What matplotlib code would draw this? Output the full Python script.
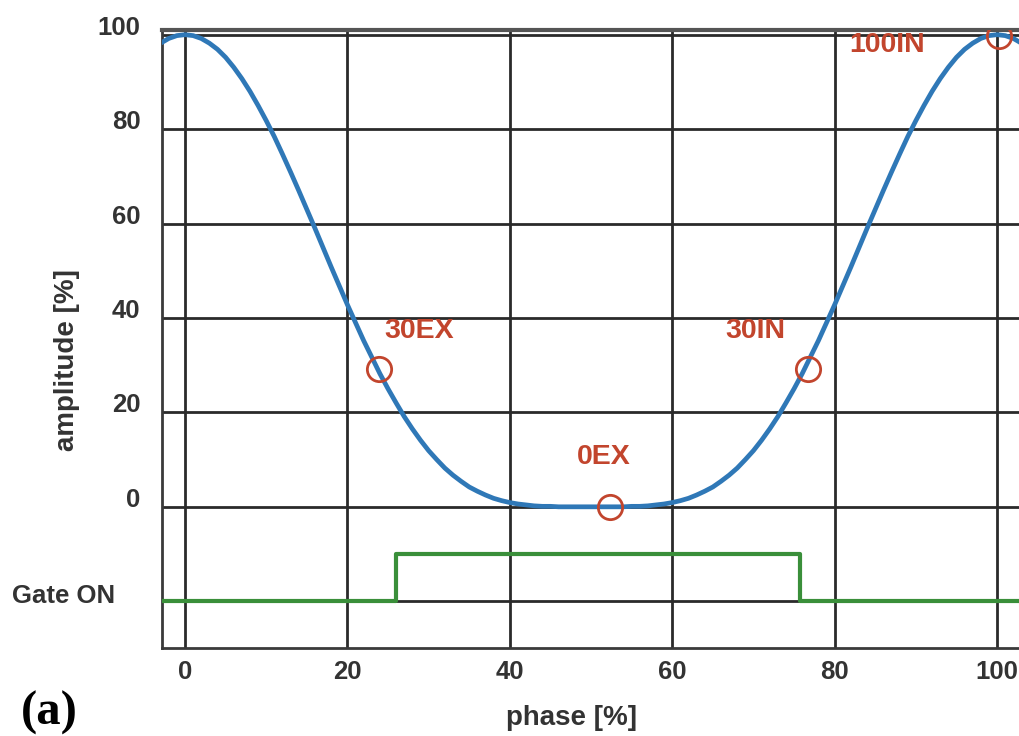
import matplotlib.pyplot as plt

## phase / amplitude (1 % steps)
phase = list(range(-3, 104))
amplitude = [98.2, 99.2, 99.8, 100, 99.8, 99.2, 98.2, 96.9, 95.2, 93.1, 90.7, 88.0,
             85.0, 81.8, 78.4, 74.7, 70.9, 67.0, 63.0, 59.0, 54.9, 50.8, 46.8, 42.8,
             39.0, 35.2, 31.7, 28.2, 25.0, 22.0, 19.1, 16.5, 14.1, 11.9, 10.0, 8.2,
             6.7, 5.4, 4.2, 3.3, 2.5, 1.8, 1.3, 0.9, 0.6, 0.4, 0.2, 0.1, 0.1, 0.0,
             0.0, 0.0, 0.0, 0.0,
             0.0, 0.0, 0.0, 0.0, 0.1, 0.1, 0.2, 0.4, 0.6, 0.9, 1.3, 1.8, 2.5, 3.3,
             4.2, 5.4, 6.7, 8.2, 10.0, 11.9, 14.1, 16.5, 19.1, 22.0, 25.0, 28.2,
             31.7, 35.2, 39.0, 42.8, 46.8, 50.8, 54.9, 59.0, 63.0, 67.0, 70.9, 74.7,
             78.4, 81.8, 85.0, 88.0, 90.7, 93.1, 95.2, 96.9, 98.2, 99.2, 99.8, 100,
             99.8, 99.2, 98.2]

## gate signal
gate_x = [-3, 26.0, 26.0, 75.7, 75.7, 103]
gate_y = [-20, -20, -10, -10, -20, -20]
gate_label = 'Gate ON'

## marked points
mark_x = [23.9, 52.3, 76.7, 100.2]
mark_y = [29.2, 0.0, 29.2, 99.8]
mark_labels = ['30EX', '0EX', '30IN', '100IN']
label_x = [24.5, 48.2, 66.6, 81.8]
label_y = [37.3, 10.6, 37.3, 97.9]

yticks = [-20, 0, 20, 40, 60, 80, 100]
yticklabels = ['', '0', '20', '40', '60', '80', '100']
xticks = [0, 20, 40, 60, 80, 100]

TXT = '#333333'
RED = '#c2452d'

plt.rcParams['font.family'] = ['Liberation Sans', 'DejaVu Sans']
plt.rcParams['font.weight'] = 'bold'

fig = plt.figure(figsize=(10.19, 7.36), dpi=100)
ax = fig.add_axes([0.159, 0.1196, 0.841, 0.8397])

ax.plot(phase, amplitude, color='#2f78b7', lw=3.4, zorder=3)
ax.plot(gate_x, gate_y, color='#3a8f3a', lw=3, zorder=3)
ax.plot(mark_x, mark_y, 'o', ms=17.5, mfc='none', mec=RED, mew=2, zorder=4)
for lx, ly, t in zip(label_x, label_y, mark_labels):
    ax.text(lx, ly, t, color=RED, fontsize=20.5, fontweight='bold', va='center', ha='left')

ax.set_xlim(-2.83, 102.7)
ax.set_ylim(-29.9, 101)
ax.set_xticks(xticks)
ax.set_yticks(yticks)
ax.set_yticklabels(yticklabels, va='baseline')
ax.tick_params(length=0, labelsize=18.5, labelcolor=TXT)
ax.tick_params(axis='y', pad=15.5)
ax.tick_params(axis='x', pad=9)
ax.text(-0.0548, -20.3, gate_label, transform=ax.get_yaxis_transform(),
        ha='right', va='baseline', fontsize=18.5, fontweight='bold', color=TXT)

ax.grid(True, color='#2a2a2a', lw=2)
ax.set_axisbelow(True)
for s in ['left', 'top', 'bottom']:
    ax.spines[s].set_linewidth(2)
    ax.spines[s].set_color('#3a3a3a')
ax.spines['right'].set_visible(False)
ax.spines['top'].set_color('#555555')
ax.spines['top'].set_linewidth(3)

ax.set_xlabel('phase [%]', fontsize=20, fontweight='bold', color=TXT)
ax.set_ylabel('amplitude [%]', fontsize=20, fontweight='bold', color=TXT)
ax.xaxis.set_label_coords(0.478, -0.093)
ax.yaxis.set_label_coords(-0.096, 0.466)

fig.text(0.02, 0.002, '(a)', fontsize=35, fontweight='bold', family='Liberation Serif',
         va='bottom')

fig.savefig('out.png', dpi=100)
